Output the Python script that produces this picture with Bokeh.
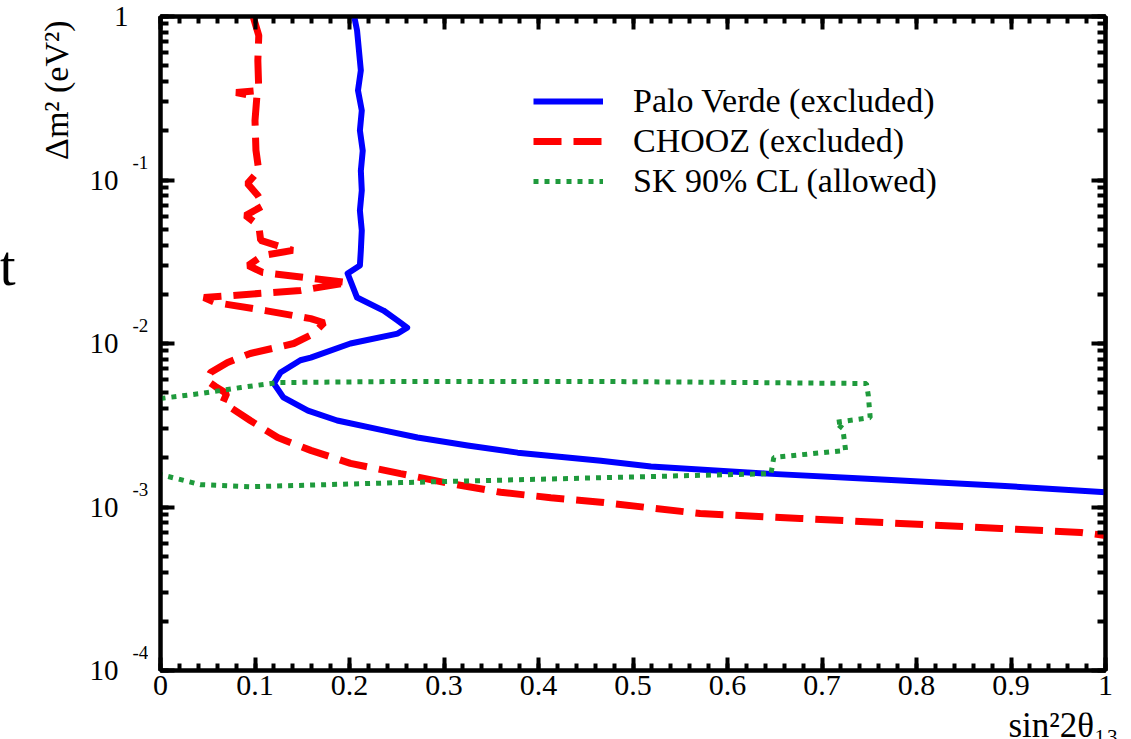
import math

from bokeh.plotting import figure
from bokeh.layouts import row, column
from bokeh.models import (LinearAxis, LogAxis, Range1d, SingleIntervalTicker, LogTicker,
                          CustomJSTickFormatter, Legend, LegendItem)
from bokeh.core.properties import value
from bokeh.embed import file_html
from bokeh.resources import INLINE

# Palo Verde exclusion contour (sin^2 2theta13, delta m^2 in eV^2)
palo_sin = [0.205, 0.208, 0.210, 0.212, 0.209, 0.213, 0.211, 0.214, 0.212, 0.213,
            0.211, 0.213, 0.212, 0.211, 0.198, 0.208, 0.236, 0.251, 0.261, 0.251,
            0.201, 0.159, 0.148, 0.127, 0.120, 0.130, 0.156, 0.187, 0.236, 0.272,
            0.325, 0.378, 0.466, 0.519, 0.642, 0.748, 0.889, 1.0]
palo_dm2 = [1.0, 0.821, 0.620, 0.468, 0.353, 0.266, 0.201, 0.151, 0.114, 0.0863,
            0.0651, 0.0491, 0.0371, 0.0300, 0.0268, 0.0191, 0.0159, 0.0138, 0.0125, 0.0115,
            0.0100, 0.0082, 0.0079, 0.00665, 0.00569, 0.00468, 0.00389, 0.00338, 0.00294, 0.00266,
            0.00238, 0.00215, 0.00192, 0.00177, 0.00160, 0.00149, 0.00135, 0.00123]

# CHOOZ exclusion contour
chooz_sin = [0.098, 0.104, 0.103, 0.104, 0.080, 0.102, 0.100, 0.101, 0.104, 0.092,
             0.103, 0.109, 0.090, 0.104, 0.106, 0.140, 0.108, 0.093, 0.108, 0.198,
             0.148, 0.046, 0.058, 0.111, 0.159, 0.173, 0.162, 0.141, 0.095, 0.071,
             0.053, 0.049, 0.058, 0.070, 0.066, 0.095, 0.124, 0.159, 0.201, 0.254,
             0.307, 0.360, 0.413, 0.466, 0.571, 0.677, 0.783, 0.889, 0.974, 1.0]
chooz_dm2 = [1.0, 0.765, 0.538, 0.353, 0.343, 0.324, 0.231, 0.152, 0.114, 0.0952,
             0.0804, 0.0698, 0.0607, 0.0527, 0.0427, 0.0371, 0.0345, 0.0300, 0.0272, 0.0236,
             0.0211, 0.0191, 0.0178, 0.0159, 0.0142, 0.0134, 0.0115, 0.0100, 0.00869, 0.00766,
             0.00665, 0.00594, 0.00546, 0.00494, 0.00436, 0.00338, 0.00266, 0.00222, 0.00185, 0.00160,
             0.00139, 0.00123, 0.00114, 0.00107, 0.000912, 0.000851, 0.000793, 0.000739, 0.000699, 0.000670]

# Super-Kamiokande 90% CL allowed region
sk_sin = [0.0, 0.042, 0.085, 0.124, 0.254, 0.466, 0.624, 0.747, 0.749, 0.751,
          0.714, 0.722, 0.725, 0.649, 0.646, 0.466, 0.254, 0.095, 0.042, 0.0]
sk_dm2 = [0.00461, 0.00494, 0.00538, 0.00577, 0.00586, 0.00586, 0.00577, 0.00569, 0.00481, 0.00352,
          0.00329, 0.00302, 0.00222, 0.00201, 0.00160, 0.00151, 0.00141, 0.00133, 0.00137, 0.00158]

series_labels = ["Palo Verde (excluded)", "CHOOZ (excluded)", "SK 90% CL (allowed)"]

# log-axis tick labels: mantissa text and the exponent written beside it
y_tick_vals = [1.0, 1e-1, 1e-2, 1e-3, 1e-4]
y_tick_text = ["1", "10", "10", "10", "10"]
y_exp_vals = [1e-1, 1e-2, 1e-3, 1e-4]
y_exponents = ["-1", "-2", "-3", "-4"]

X_MIN, X_MAX = 0.0, 1.0
Y_MIN, Y_MAX = 1e-4, 1.0

SERIF = "Liberation Serif"

# page geometry (pixels)
W, H = 1131, 739
LEFT_W = 148          # text column holding the log-axis labels
MAIN_W = W - LEFT_W
MAIN_H = 712          # plot panel height; a strip below holds the x title
STRIP_H = H - MAIN_H
FRAME_L, FRAME_R, FRAME_T, FRAME_B = 160, 1105, 16, 670
frame_w = FRAME_R - FRAME_L
decade_px = (FRAME_B - FRAME_T) / (math.log10(Y_MAX) - math.log10(Y_MIN))

# ---------------------------------------------------------------- main plot
p = figure(width=MAIN_W, height=MAIN_H,
           x_range=Range1d(X_MIN, X_MAX), y_range=Range1d(Y_MIN, Y_MAX),
           y_axis_type="log", x_axis_location=None, y_axis_location=None,
           output_backend="svg", toolbar_location=None, title=None,
           min_border_left=FRAME_L - LEFT_W, min_border_right=W - FRAME_R,
           min_border_top=FRAME_T, min_border_bottom=MAIN_H - FRAME_B)
p.grid.visible = False
p.outline_line_color = "black"
p.outline_line_width = 4
p.background_fill_color = "white"
p.border_fill_color = "white"


def style_ticks(ax, major_in, minor_in):
    ax.major_tick_in = major_in
    ax.major_tick_out = 0
    ax.minor_tick_in = minor_in
    ax.minor_tick_out = 0
    ax.major_tick_line_width = 4
    ax.minor_tick_line_width = 4
    ax.axis_line_width = 4
    ax.major_tick_line_color = "black"
    ax.minor_tick_line_color = "black"
    ax.axis_line_color = "black"


def unlabeled(ax):
    ax.formatter = CustomJSTickFormatter(code="return '';")
    ax.major_label_text_font_size = "0px"
    ax.major_label_standoff = 0


xb = LinearAxis(ticker=SingleIntervalTicker(interval=0.1, num_minor_ticks=5),
                formatter=CustomJSTickFormatter(code="return tick.toFixed(1).replace(/\\.0$/, '');"))
style_ticks(xb, 13, 7)
xb.major_label_text_font = SERIF
xb.major_label_text_font_size = "30px"
xb.major_label_text_color = "black"
xb.major_label_standoff = 5
p.add_layout(xb, "below")

xt = LinearAxis(ticker=SingleIntervalTicker(interval=0.1, num_minor_ticks=5))
style_ticks(xt, 13, 7)
unlabeled(xt)
p.add_layout(xt, "above")

yl = LogAxis(ticker=LogTicker(num_minor_ticks=10))
style_ticks(yl, 14, 8)
unlabeled(yl)
p.add_layout(yl, "left")

yr = LogAxis(ticker=LogTicker(num_minor_ticks=10))
style_ticks(yr, 14, 8)
unlabeled(yr)
p.add_layout(yr, "right")

r_palo = p.line(palo_sin, palo_dm2, line_color="#0000ff", line_width=6, line_join="round")
r_chooz = p.line(chooz_sin, chooz_dm2, line_color="#ff0000", line_width=7, line_dash="28 12")
r_sk = p.line(sk_sin, sk_dm2, line_color="#1f9a3c", line_width=5, line_dash="5 6")

legend = Legend(items=[LegendItem(label=series_labels[0], renderers=[r_palo]),
                       LegendItem(label=series_labels[1], renderers=[r_chooz]),
                       LegendItem(label=series_labels[2], renderers=[r_sk])],
                location=(373, 469), border_line_alpha=0, background_fill_alpha=0,
                label_text_font=SERIF, label_text_font_size="34px", label_text_color="black",
                glyph_width=70, glyph_height=40, label_height=40, spacing=0,
                padding=0, margin=0, label_standoff=30)
p.add_layout(legend)

# ------------------------------------------------- y tick labels and y title
# same log scale as the plot, extended over the whole column height
lo = 10 ** (math.log10(Y_MIN) - (H - FRAME_B) / decade_px)
hi = 10 ** (math.log10(Y_MAX) + FRAME_T / decade_px)
side = figure(width=LEFT_W, height=H, x_range=Range1d(-FRAME_L, LEFT_W - FRAME_L),
              y_range=Range1d(lo, hi), y_axis_type="log",
              x_axis_location=None, y_axis_location=None,
              output_backend="svg", toolbar_location=None, title=None, min_border=0)
side.frame_align = False
side.grid.visible = False
side.outline_line_color = None
side.background_fill_color = "white"
side.border_fill_color = "white"

side.text(x=[-32, -42, -42, -42, -42], y=y_tick_vals, text=y_tick_text,
          text_font=value(SERIF), text_font_size="29px", text_color="black",
          text_align="right", text_baseline="middle")
side.text(x=[-28] * len(y_exp_vals), y=y_exp_vals, text=y_exponents,
          text_font=value(SERIF), text_font_size="19px", text_color="black",
          text_align="left", text_baseline="middle", y_offset=-18)
side.text(x=[-104], y=[Y_MAX], text=["\u0394m\u00b2 (eV\u00b2)"], angle=math.pi / 2,
          text_font=value(SERIF), text_font_size="34px", text_color="black",
          text_align="right", text_baseline="middle", y_offset=4)
side.text(x=[-145], y=[0.0300], text=["t"],
          text_font=value(SERIF), text_font_size="58px", text_color="black",
          text_align="right", text_baseline="middle")

# ------------------------------------------------------------- x title strip
# shares the plot's x scale; its frame spans the strip's full width
strip = figure(width=MAIN_W, height=STRIP_H,
               x_range=Range1d(X_MIN - (FRAME_L - LEFT_W) / frame_w * (X_MAX - X_MIN),
                               X_MAX + (W - FRAME_R) / frame_w * (X_MAX - X_MIN)),
               y_range=Range1d(0, STRIP_H),
               x_axis_location=None, y_axis_location=None,
               output_backend="svg", toolbar_location=None, title=None,
               min_border_left=0, min_border_right=0, min_border_top=0, min_border_bottom=0)
strip.frame_align = False
strip.grid.visible = False
strip.outline_line_color = None
strip.background_fill_color = "white"
strip.border_fill_color = "white"
strip.text(x=[X_MAX], y=[14], text=["sin\u00b22\u03b8\u2081\u2083"],
           text_font=value(SERIF), text_font_size="35px", text_color="black",
           text_align="right", text_baseline="middle", x_offset=13)

layout = row(side, column(p, strip, spacing=0), spacing=0)
open("out.html", "w").write(file_html(layout, INLINE))
